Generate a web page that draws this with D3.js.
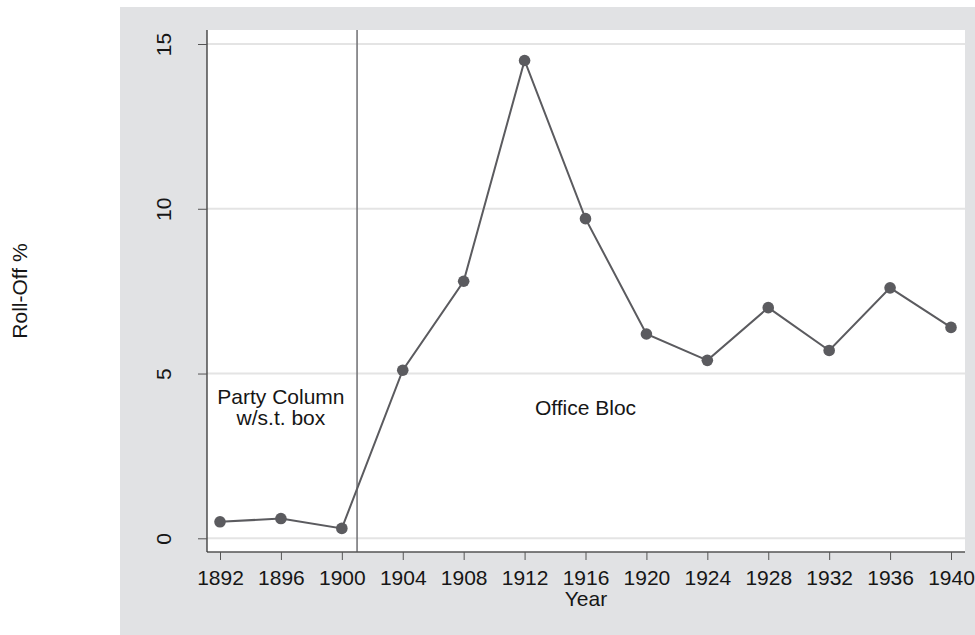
<!DOCTYPE html>
<html>
<head>
<meta charset="utf-8">
<script src="https://cdn.jsdelivr.net/npm/d3@7"></script>
<style>
  body { margin: 0; background: #fff; }
  svg text { font-family: "Liberation Sans", Arial, sans-serif; fill: #161616; }
</style>
</head>
<body>
<svg id="chart" width="975" height="635"></svg>
<script>
// data
var years = [1892, 1896, 1900, 1904, 1908, 1912, 1916, 1920, 1924, 1928, 1932, 1936, 1940];
var rolloff = [0.5, 0.6, 0.3, 5.1, 7.8, 14.5, 9.7, 6.2, 5.4, 7.0, 5.7, 7.6, 6.4];
var y_ticks = [0, 5, 10, 15];
var change_year = 1901;
var notes = [
    {year: 1896, value: 4.08, lines: ['Party Column', 'w/s.t. box']},
    {year: 1916, value: 3.75, lines: ['Office Bloc']}
];

var plot = {left: 207, right: 965, top: 30, bottom: 552};
var svg = d3.select('#chart');

var x = d3.scaleLinear().domain([1892, 1940]).range([220, 951]);
var y = d3.scaleLinear().domain([0, 15]).range([538.3, 44]);

// backgrounds
svg.append('rect').attr('x', 120).attr('y', 7).attr('width', 855).attr('height', 628).attr('fill', '#e1e2e4');
svg.append('rect').attr('x', plot.left).attr('y', plot.top)
    .attr('width', plot.right - plot.left).attr('height', plot.bottom - plot.top).attr('fill', '#fff');

// grid
svg.append('g').selectAll('line').data(y_ticks).enter().append('line')
    .attr('x1', plot.left).attr('x2', plot.right)
    .attr('y1', function (d) { return y(d); })
    .attr('y2', function (d) { return y(d); })
    .attr('stroke', '#e4e4e4').attr('stroke-width', 2);

// period divider
svg.append('line')
    .attr('x1', x(change_year)).attr('x2', x(change_year))
    .attr('y1', plot.top).attr('y2', plot.bottom)
    .attr('stroke', '#77777a').attr('stroke-width', 1.6);

// axes
var x_axis = svg.append('g')
    .attr('transform', 'translate(0,' + plot.bottom + ')')
    .call(d3.axisBottom(x).tickValues(years).tickFormat(d3.format('d')).tickSize(8).tickPadding(10));
x_axis.select('.domain').attr('d', 'M' + plot.left + ',0H' + plot.right).attr('stroke', '#555');
x_axis.selectAll('.tick line').attr('stroke', '#555');
x_axis.selectAll('.tick text').attr('font-size', 21);

var y_axis = svg.append('g')
    .attr('transform', 'translate(' + plot.left + ',0)')
    .call(d3.axisLeft(y).tickValues(y_ticks).tickSize(9));
y_axis.select('.domain').attr('d', 'M0,' + plot.top + 'V' + plot.bottom).attr('stroke', '#333');
y_axis.selectAll('.tick line').attr('stroke', '#555');
y_axis.selectAll('.tick text')
    .attr('x', null).attr('dy', null)
    .attr('transform', 'translate(-36,0) rotate(-90)')
    .attr('text-anchor', 'middle')
    .attr('font-size', 21);
svg.selectAll('.domain').attr('stroke-width', 1.3);

// axis titles
svg.append('text').attr('x', (plot.left + plot.right) / 2).attr('y', 606)
    .attr('text-anchor', 'middle').attr('font-size', 21).text('Year');
svg.append('text').attr('transform', 'translate(27,' + ((plot.top + plot.bottom) / 2) + ') rotate(-90)')
    .attr('text-anchor', 'middle').attr('font-size', 21).text('Roll-Off %');

// series
var pts = years.map(function (d, i) { return [d, rolloff[i]]; });
var line = d3.line().x(function (d) { return x(d[0]); }).y(function (d) { return y(d[1]); });
svg.append('path').datum(pts).attr('d', line)
    .attr('fill', 'none').attr('stroke', '#5b5b5f').attr('stroke-width', 2);
svg.append('g').selectAll('circle').data(pts).enter().append('circle')
    .attr('cx', function (d) { return x(d[0]); })
    .attr('cy', function (d) { return y(d[1]); })
    .attr('r', 5.8).attr('fill', '#5b5b5f');

// notes
notes.forEach(function (n) {
    var t = svg.append('text').attr('text-anchor', 'middle').attr('font-size', 21);
    n.lines.forEach(function (s, i) {
        t.append('tspan').attr('x', x(n.year)).attr('y', y(n.value) + i * 21.5).text(s);
    });
});
</script>
</body>
</html>
